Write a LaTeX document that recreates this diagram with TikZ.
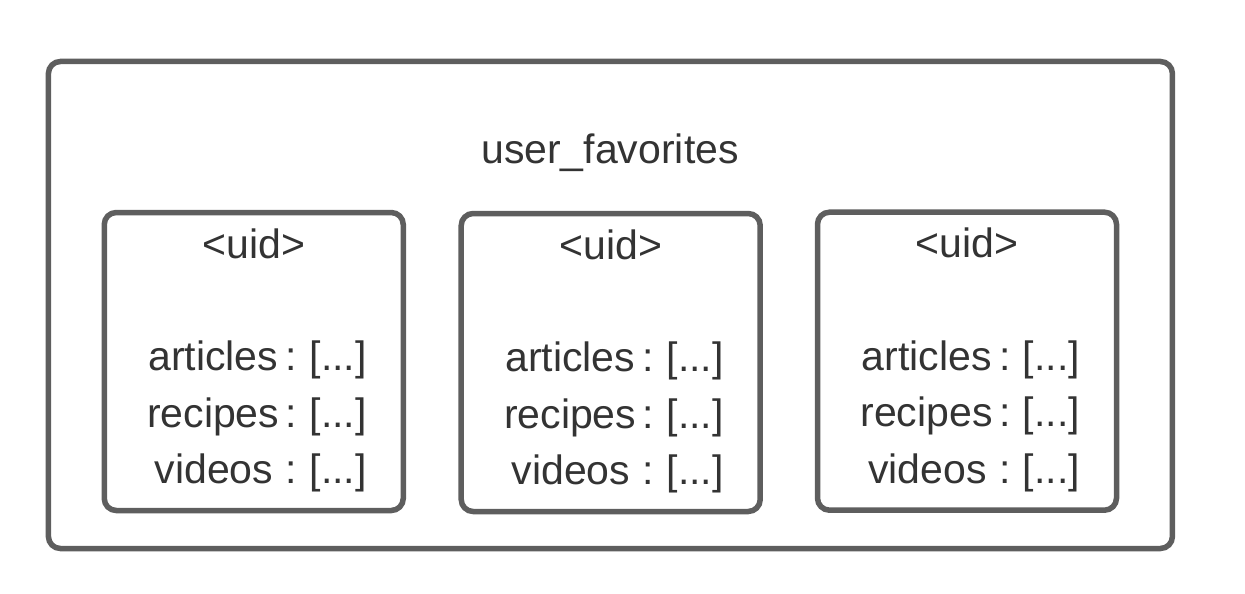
\documentclass[tikz,border=0pt]{standalone}
\usepackage{fontspec}
\setmainfont{Liberation Sans}
\definecolor{edgegray}{HTML}{5E5E5E}
\definecolor{txtgray}{HTML}{333333}
\begin{document}
\begin{tikzpicture}[x=1pt,y=-1pt,
  box/.style={draw=edgegray,line width=5.5pt,rounded corners=12pt,inner sep=0pt,fill=none},
  lbl/.style={inner sep=0pt,text=txtgray,font=\fontsize{41}{49}\selectfont}]
\useasboundingbox (0,0) rectangle (1245,594);
\node[box,minimum width=1124pt,minimum height=487pt] (outer) at (610.4,305) {};
\node[lbl,anchor=base] (title) at (610,163) {user\_favorites};
\foreach \i/\cx/\cy in {1/253.75/361.5, 2/610.7/362.5, 3/967/361.2}{
  \node[box,minimum width=299pt,minimum height=298pt] (b\i) at (\cx,\cy) {};
  \node[lbl,anchor=base] (uid\i) at ([yshift=-48.5pt]b\i.north) {<uid>};
  \node[lbl,anchor=base east] (ka\i) at ([xshift=177pt,yshift=-161pt]b\i.north west) {articles};
  \node[lbl,anchor=base] (ca\i) at ([xshift=190pt,yshift=-161pt]b\i.north west) {:};
  \node[lbl,anchor=base west] (va\i) at ([xshift=208pt,yshift=-161pt]b\i.north west) {[...]};
  \node[lbl,anchor=base east] (kr\i) at ([xshift=178pt,yshift=-217.5pt]b\i.north west) {recipes};
  \node[lbl,anchor=base] (cr\i) at ([xshift=190pt,yshift=-217.5pt]b\i.north west) {:};
  \node[lbl,anchor=base west] (vr\i) at ([xshift=208pt,yshift=-217.5pt]b\i.north west) {[...]};
  \node[lbl,anchor=base east] (kv\i) at ([xshift=172pt,yshift=-274pt]b\i.north west) {videos};
  \node[lbl,anchor=base] (cv\i) at ([xshift=190pt,yshift=-274pt]b\i.north west) {:};
  \node[lbl,anchor=base west] (vv\i) at ([xshift=208pt,yshift=-274pt]b\i.north west) {[...]};
}
\end{tikzpicture}
\end{document}
